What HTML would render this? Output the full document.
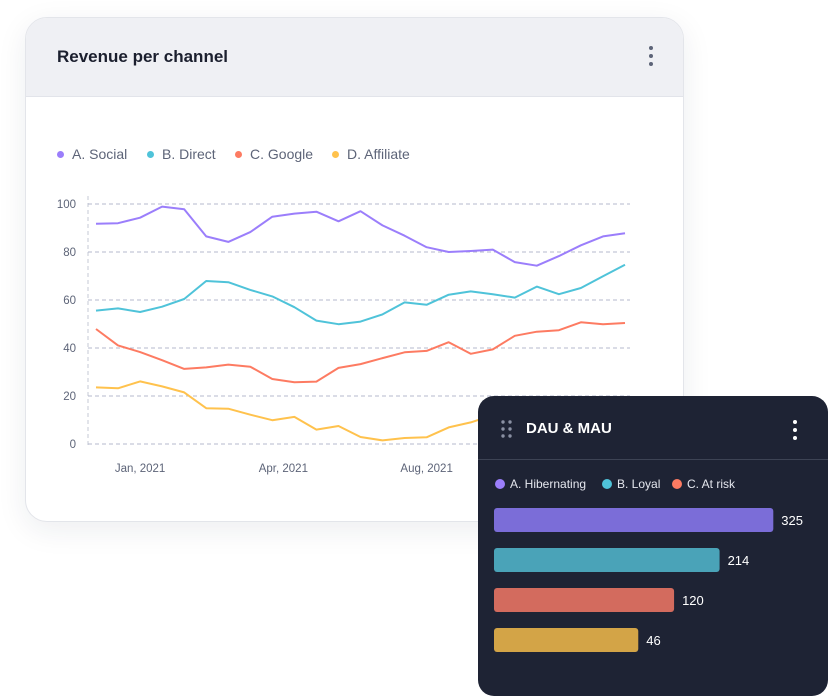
<!DOCTYPE html>
<html><head><meta charset="utf-8"><style>
body{margin:0;width:828px;height:697px;background:#fff;position:relative;overflow:hidden;font-family:"Liberation Sans",sans-serif}
.card1{position:absolute;left:25px;top:17px;width:657px;height:503px;border:1px solid #e3e5ea;border-radius:22px;background:#fff;overflow:hidden;box-shadow:0 8px 30px rgba(30,35,60,.08)}
.hdr{height:78px;background:#eff0f4;border-bottom:1px solid #e2e4ea;position:relative}
.title{position:absolute;left:31px;top:29px;font-size:17px;color:#1b1f2e;font-weight:600}
.dots{position:absolute;width:4px}
.dots i{display:block;width:4px;height:4px;border-radius:2px;margin-bottom:4px}
.leg{position:absolute;font-size:14px;color:#5d6478;display:flex;align-items:center}
.leg span.d{width:7px;height:7px;border-radius:50%;display:inline-block;margin-right:8px}
.card2{position:absolute;left:478px;top:396px;width:350px;height:300px;background:#1e2334;border-radius:16px;overflow:hidden}
.l2{position:absolute;font-size:12px;color:#e5e7ee;display:flex;align-items:center}
.l2 span.d{width:10px;height:10px;border-radius:50%;display:inline-block;margin-right:5px}
</style></head><body>
<div class="card1">
 <div class="hdr">
  <div class="title">Revenue per channel</div>
  <div class="dots" style="left:623px;top:28px"><i style="background:#5d6478"></i><i style="background:#5d6478"></i><i style="background:#5d6478"></i></div>
 </div>
</div>
<div class="leg" style="left:57px;top:146px"><span class="d" style="background:#9b7efb"></span>A. Social</div>
<div class="leg" style="left:147px;top:146px"><span class="d" style="background:#4fc3d9"></span>B. Direct</div>
<div class="leg" style="left:235px;top:146px"><span class="d" style="background:#fd7b62"></span>C. Google</div>
<div class="leg" style="left:332px;top:146px"><span class="d" style="background:#ffc24d"></span>D. Affiliate</div>
<svg id="lc" width="828" height="697" style="position:absolute;left:0;top:0"></svg>

<div class="card2">
 <div style="position:absolute;left:0;top:63px;width:350px;height:1px;background:#3d4354"></div>
 <div style="position:absolute;left:23px;top:24px;width:12px">
  <svg width="12" height="18"><g fill="#8a90a3"><circle cx="2" cy="2" r="1.7"/><circle cx="9" cy="2" r="1.7"/><circle cx="2" cy="9" r="1.7"/><circle cx="9" cy="9" r="1.7"/><circle cx="2" cy="16" r="1.7"/><circle cx="9" cy="16" r="1.7"/></g></svg>
 </div>
 <div style="position:absolute;left:48px;top:24px;font-size:15px;color:#fff;font-weight:600">DAU &amp; MAU</div>
 <div class="dots" style="left:315px;top:24px"><i style="background:#fff"></i><i style="background:#fff"></i><i style="background:#fff"></i></div>
 <div class="l2" style="left:17px;top:81px"><span class="d" style="background:#9b7efb"></span>A. Hibernating</div>
 <div class="l2" style="left:124px;top:81px"><span class="d" style="background:#4fc3d9"></span>B. Loyal</div>
 <div class="l2" style="left:194px;top:81px"><span class="d" style="background:#fd7b62"></span>C. At risk</div>
</div>
<svg id="bc" width="828" height="697" style="position:absolute;left:0;top:0"></svg>

<script>
const social=[91.8,92,94.3,98.9,97.8,86.5,84.2,88.3,94.7,96,96.8,92.8,97,91.1,86.8,82,80,80.4,81,75.8,74.3,78.3,82.8,86.5,87.8];
const direct=[55.6,56.5,55,57.2,60.4,67.9,67.4,64.2,61.5,57,51.4,49.9,51,54,59,58,62.2,63.6,62.4,61,65.6,62.4,65,69.9,74.7];
const google=[47.9,41.1,38.3,34.9,31.3,31.9,33.1,32.2,27.1,25.7,26,31.7,33.3,35.8,38.2,38.8,42.4,37.6,39.4,45.1,46.8,47.4,50.7,49.9,50.4];
const affiliate=[23.6,23.2,26.1,24,21.5,14.9,14.7,12.2,9.9,11.3,6,7.5,2.9,1.5,2.5,2.8,6.9,9,12,13.5,14.5,15.5,16,17,17.5];
const yTicks=[0,20,40,60,80,100];
const xTickLabels=["Jan, 2021","Apr, 2021","Aug, 2021"];
const xTickIdx=[2,8.5,15];
const barCats=["A. Hibernating","B. Loyal","C. At risk","D. Other"];
const barVals=[325,214,120,46];

const NS="http://www.w3.org/2000/svg";
function mk(p,t,a){const e=document.createElementNS(NS,t);for(const k in a)e.setAttribute(k,a[k]);p.appendChild(e);return e;}
const lc=document.getElementById('lc');
const X=i=>96+i*(529/(social.length-1));
const Y=v=>444-v*2.4;
const ax=mk(lc,'line',{x1:88,x2:88,y1:196,y2:448,stroke:'#c5c8d4','stroke-dasharray':'4 3'});


yTicks.forEach(t=>{
 const g=mk(lc,'line',{x1:88,x2:630,y1:Y(t),y2:Y(t),stroke:'#b4b8cc','stroke-dasharray':'4 3'});
 
 
 const tx=mk(lc,'text',{x:76,y:Y(t)+4,'text-anchor':'end','font-size':'11.5',fill:'#5d6478','font-family':'Liberation Sans'});
 tx.textContent=t;
 
 
});
xTickLabels.forEach((l,i)=>{
 const tx=mk(lc,'text',{x:X(xTickIdx[i]),y:472,'text-anchor':'middle','font-size':'11.5',fill:'#5d6478','font-family':'Liberation Sans'});
 tx.textContent=l;
 
 
});
[[social,'#9b7efb','line-social'],[direct,'#4fc3d9','line-direct'],[google,'#fd7b62','line-google'],[affiliate,'#ffc24d','line-affiliate']].forEach(([d,c,n])=>{
 const p=mk(lc,'path',{d:d.map((v,i)=>(i?'L':'M')+X(i).toFixed(1)+' '+Y(v).toFixed(1)).join(' '),fill:'none',stroke:c,'stroke-width':2,'stroke-linejoin':'round'});
 
 
});
const bc=document.getElementById('bc');
const colors=['#7b6dd8','#4aa3b8','#d36b5e','#d3a447'];
const W=v=>122+0.484*v;
barVals.forEach((v,i)=>{
 const y=508+i*40;
 const r=mk(bc,'rect',{x:494,y:y,width:W(v),height:24,rx:3,fill:colors[i]});
 
 
 const t=mk(bc,'text',{x:494+W(v)+8,y:y+17,'font-size':'13',fill:'#fff','font-family':'Liberation Sans'});
 t.textContent=v;
 
 
});
</script>
</body></html>
